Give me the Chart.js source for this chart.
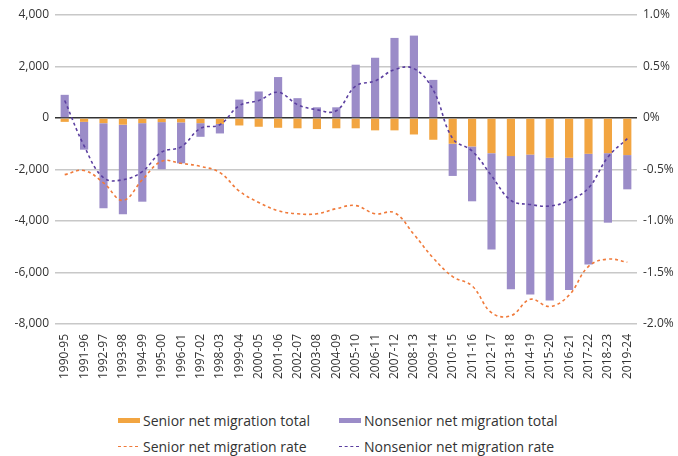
<!DOCTYPE html>
<html>
<head>
<meta charset="utf-8">
<script src="https://cdn.jsdelivr.net/npm/chart.js@4.4.1/dist/chart.umd.min.js"></script>
<style>
  body { margin: 0; background: #fff; font-family: "Open Sans", sans-serif; }
  #wrap { position: relative; width: 678px; height: 456px; }
  #legend { position: absolute; left: 118px; top: 409px; font-size: 14px; color: #333; }
  .item { position: absolute; white-space: nowrap; display: flex; align-items: center; height: 22px; }
  .bar { width: 22px; height: 5px; margin-right: 3px; }
  .dash { width: 20px; height: 0; border-top: 1.5px dashed; margin-right: 5px; }
</style>
</head>
<body>
<div id="wrap">
  <canvas id="migrationChart" width="678" height="400"></canvas>
  <div id="legend">
    <div class="item" style="left:0;top:0"><span class="bar" style="background:#F2A541"></span>Senior net migration total</div>
    <div class="item" style="left:221px;top:0"><span class="bar" style="background:#9B8CC8"></span>Nonsenior net migration total</div>
    <div class="item" style="left:0;top:26px"><span class="dash" style="border-color:#F07A3A"></span>Senior net migration rate</div>
    <div class="item" style="left:221px;top:26px"><span class="dash" style="border-color:#5B3FA0"></span>Nonsenior net migration rate</div>
  </div>
</div>
<script>
// Period labels
const periods = [
  "1990-95", "1991-96", "1992-97", "1993-98", "1994-99", "1995-00",
  "1996-01", "1997-02", "1998-03", "1999-04", "2000-05", "2001-06",
  "2002-07", "2003-08", "2004-09", "2005-10", "2006-11", "2007-12",
  "2008-13", "2009-14", "2010-15", "2011-16", "2012-17", "2013-18",
  "2014-19", "2015-20", "2016-21", "2017-22", "2018-23", "2019-24",
];

// Net migration totals (people), stacked bars
const seniorTotal = [
  -150, -150, -200, -260, -200, -160, -170, -200, -230, -290,
  -340, -380, -400, -430, -400, -400, -480, -480, -640, -845,
  -1000, -1105, -1365, -1480, -1420, -1545, -1545, -1390, -1365, -1440,
];
const nonseniorTotal = [
  900, -1080, -3300, -3480, -3050, -1830, -1590, -530, -370, 715,
  1030, 1590, 770, 415, 415, 2070, 2340, 3110, 3200, 1480,
  -1250, -2130, -3745, -5175, -5430, -5540, -5135, -4300, -2700, -1330,
];

// Net migration rates (%)
const seniorRate = [
  -0.55, -0.51, -0.63, -0.8, -0.6, -0.42, -0.44, -0.47, -0.53, -0.71,
  -0.82, -0.9, -0.93, -0.93, -0.88, -0.85, -0.93, -0.92, -1.13, -1.36,
  -1.54, -1.63, -1.89, -1.92, -1.76, -1.83, -1.72, -1.44, -1.37, -1.4,
];
const nonseniorRate = [
  0.17, -0.27, -0.58, -0.6, -0.52, -0.33, -0.28, -0.1, -0.065, 0.12,
  0.17, 0.25, 0.13, 0.08, 0.07, 0.31, 0.36, 0.47, 0.48, 0.27,
  -0.2, -0.32, -0.56, -0.8, -0.84, -0.855, -0.8, -0.68, -0.38, -0.2,
];

const tickFont = { family: "'Open Sans', sans-serif", size: 12 };

new Chart(document.getElementById("migrationChart"), {
  data: {
    labels: periods,
    datasets: [
      {
        type: "line",
        label: "Senior net migration rate",
        data: seniorRate,
        yAxisID: "y1",
        borderColor: "#F07A3A",
        borderWidth: 1.6,
        borderDash: [3, 3],
        tension: 0.4,
        pointRadius: 0,
        order: 1,
      },
      {
        type: "line",
        label: "Nonsenior net migration rate",
        data: nonseniorRate,
        yAxisID: "y1",
        borderColor: "#5B3FA0",
        borderWidth: 1.6,
        borderDash: [3, 3],
        tension: 0.4,
        pointRadius: 0,
        order: 0,
      },
      {
        type: "bar",
        label: "Senior net migration total",
        data: seniorTotal,
        yAxisID: "y",
        stack: "totals",
        backgroundColor: "#F2A541",
        barPercentage: 0.42,
        categoryPercentage: 1,
        order: 2,
      },
      {
        type: "bar",
        label: "Nonsenior net migration total",
        data: nonseniorTotal,
        yAxisID: "y",
        stack: "totals",
        backgroundColor: "#9B8CC8",
        barPercentage: 0.42,
        categoryPercentage: 1,
        order: 3,
      },
    ],
  },
  options: {
    responsive: false,
    animation: false,
    layout: { padding: { top: 15, left: 0, right: 0, bottom: 0 } },
    plugins: {
      legend: { display: false },
      tooltip: { enabled: false },
    },
    scales: {
      x: {
        stacked: true,
        grid: { display: false },
        border: { display: false },
        ticks: {
          color: "#333",
          font: tickFont,
          minRotation: 90,
          maxRotation: 90,
          autoSkip: false,
          padding: 2,
        },
        afterFit: (scale) => { scale.height = 76; },
      },
      y: {
        stacked: true,
        position: "left",
        min: -8000,
        max: 4000,
        border: { display: false },
        grid: {
          color: (ctx) => (ctx.tick && ctx.tick.value === 0 ? "#333" : "#c8c8c8"),
          lineWidth: 1.5,
          drawTicks: false,
        },
        ticks: {
          stepSize: 2000,
          color: "#333",
          font: tickFont,
          padding: 6,
          callback: (v) => (v < 0 ? "-" : "") + Math.abs(v).toLocaleString("en-US"),
        },
        afterFit: (scale) => { scale.width = 55; },
      },
      y1: {
        position: "right",
        min: -2,
        max: 1,
        border: { display: false },
        grid: { drawOnChartArea: false, drawTicks: false },
        ticks: {
          stepSize: 0.5,
          color: "#333",
          font: tickFont,
          padding: 6,
          callback: (v) => (v === 0 ? "0%" : v.toFixed(1) + "%"),
        },
        afterFit: (scale) => { scale.width = 41; },
      },
    },
  },
});
</script>
</body>
</html>
